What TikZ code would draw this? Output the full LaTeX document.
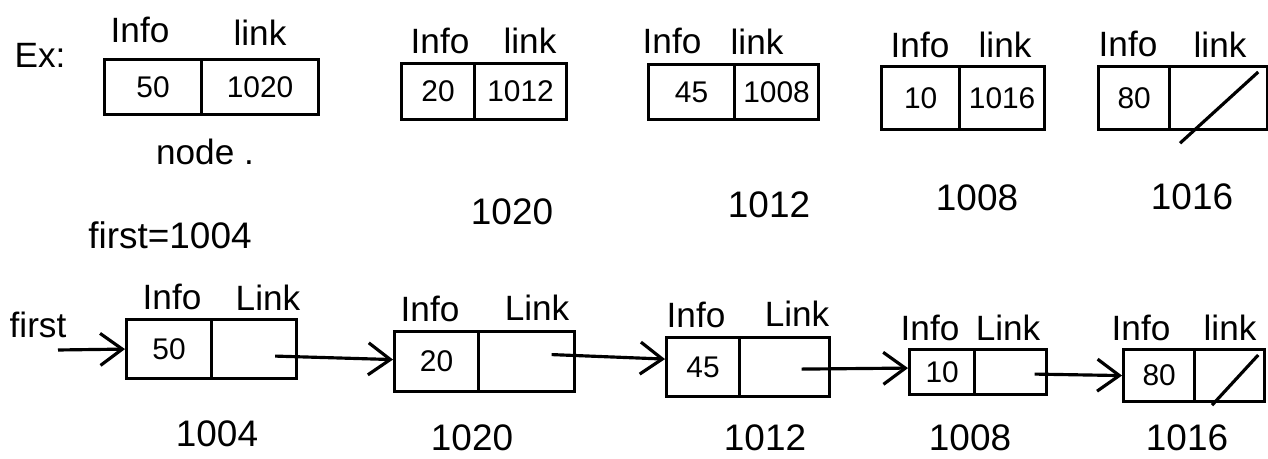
\documentclass[tikz,border=0pt]{standalone}
\usepackage{fontspec}
\setmainfont{Liberation Sans}
\usetikzlibrary{arrows.meta}
\begin{document}
\begin{tikzpicture}[x=0.01cm,y=-0.01cm,
  cell/.style={draw, line width=0.9pt, inner sep=0pt, anchor=north west, font=\fontsize{8.5}{10}\selectfont},
  lbl/.style={font=\fontsize{10}{12}\selectfont, inner sep=0pt},
  addr/.style={font=\fontsize{10.5}{12}\selectfont, inner sep=0pt},
  ptr/.style={line width=0.9pt, -{Straight Barb[length=2.2mm,width=3.2mm]}},
  strike/.style={line width=0.9pt}]
\useasboundingbox (0,0) rectangle (1268,459);

% ---------- top row ----------
\node[lbl] (ex) at (40,55) {Ex:};
\node[cell, minimum width=0.97cm, minimum height=0.55cm] (t1i) at (103,58) {50};
\node[cell, minimum width=1.17cm, minimum height=0.55cm] (t1l) at (200,58) {1020};
\node[lbl] (t1a) at (140,30) {Info};
\node[lbl] (t1b) at (260,33) {link};
\node[lbl] (nd) at (205,152) {node .};
\node[addr] (fa) at (170,235) {first=1004};

\node[cell, minimum width=0.73cm, minimum height=0.56cm] (t2i) at (400,62) {20};
\node[cell, minimum width=0.92cm, minimum height=0.56cm] (t2l) at (473,62) {1012};
\node[lbl] (t2a) at (440,41) {Info};
\node[lbl] (t2b) at (530,41) {link};
\node[addr] (t2c) at (512,212) {1020};

\node[cell, minimum width=0.86cm, minimum height=0.55cm] (t3i) at (647,63) {45};
\node[cell, minimum width=0.84cm, minimum height=0.55cm] (t3l) at (733,63) {1008};
\node[lbl] (t3a) at (672,41) {Info};
\node[lbl] (t3b) at (757,42) {link};
\node[addr] (t3c) at (769,205) {1012};

\node[cell, minimum width=0.78cm, minimum height=0.63cm] (t4i) at (880,65) {10};
\node[cell, minimum width=0.85cm, minimum height=0.63cm] (t4l) at (958,65) {1016};
\node[lbl] (t4a) at (920,45) {Info};
\node[lbl] (t4b) at (1005,45) {link};
\node[addr] (t4c) at (977,198) {1008};

\node[cell, minimum width=0.71cm, minimum height=0.63cm] (t5i) at (1097,65) {80};
\node[cell, minimum width=0.98cm, minimum height=0.63cm] (t5l) at (1168,65) {};
\node[lbl] (t5a) at (1128,44) {Info};
\node[lbl] (t5b) at (1220,45) {link};
\node[addr] (t5c) at (1192,197) {1016};
\draw[strike] ([xshift=0.12cm,yshift=-0.12cm]t5l.south west) -- ([xshift=-0.11cm,yshift=-0.07cm]t5l.north east);

% ---------- bottom row ----------
\node[lbl] (fl) at (38,325) {first};
\coordinate (fs) at (58,350);
\node[cell, minimum width=0.85cm, minimum height=0.59cm] (b1i) at (125,318) {50};
\node[cell, minimum width=0.85cm, minimum height=0.59cm] (b1l) at (210,318) {};
\node[lbl] (b1a) at (172,297) {Info};
\node[lbl] (b1b) at (268,298) {Link};
\node[addr] (b1c) at (217,434) {1004};

\node[cell, minimum width=0.84cm, minimum height=0.60cm] (b2i) at (393,330) {20};
\node[cell, minimum width=0.96cm, minimum height=0.60cm] (b2l) at (477,330) {};
\node[lbl] (b2a) at (430,309) {Info};
\node[lbl] (b2b) at (537,308) {Link};
\node[addr] (b2c) at (472,438) {1020};

\node[cell, minimum width=0.73cm, minimum height=0.59cm] (b3i) at (665,336) {45};
\node[cell, minimum width=0.90cm, minimum height=0.59cm] (b3l) at (738,336) {};
\node[lbl] (b3a) at (696,315) {Info};
\node[lbl] (b3b) at (797,314) {Link};
\node[addr] (b3c) at (765,438) {1012};

\node[cell, minimum width=0.65cm, minimum height=0.45cm] (b4i) at (908,348) {10};
\node[cell, minimum width=0.72cm, minimum height=0.45cm] (b4l) at (973,348) {};
\node[lbl] (b4a) at (930,328) {Info};
\node[lbl] (b4b) at (1008,328) {Link};
\node[addr] (b4c) at (970,438) {1008};

\node[cell, minimum width=0.71cm, minimum height=0.52cm] (b5i) at (1122,348) {80};
\node[cell, minimum width=0.70cm, minimum height=0.52cm] (b5l) at (1193,348) {};
\node[lbl] (b5a) at (1141,328) {Info};
\node[lbl] (b5b) at (1230,328) {link};
\node[addr] (b5c) at (1187,438) {1016};
\draw[strike] ([xshift=0.19cm,yshift=-0.02cm]b5l.south west) -- ([xshift=-0.08cm,yshift=-0.07cm]b5l.north east);

% ---------- pointers ----------
\draw[ptr] (fs) -- (b1i.west);
\draw[ptr] ([xshift=0.21cm,yshift=-0.07cm]b1l.center) -- ([yshift=0.02cm]b2i.west);
\draw[ptr] ([xshift=0.25cm,yshift=0.07cm]b2l.center) -- ([yshift=0.08cm]b3i.west);
\draw[ptr] ([xshift=0.17cm,yshift=-0.02cm]b3l.center) -- ([yshift=0.04cm]b4i.west);
\draw[ptr] ([xshift=0.24cm,yshift=-0.02cm]b4l.center) -- ([yshift=0.0cm]b5i.west);
\end{tikzpicture}
\end{document}
